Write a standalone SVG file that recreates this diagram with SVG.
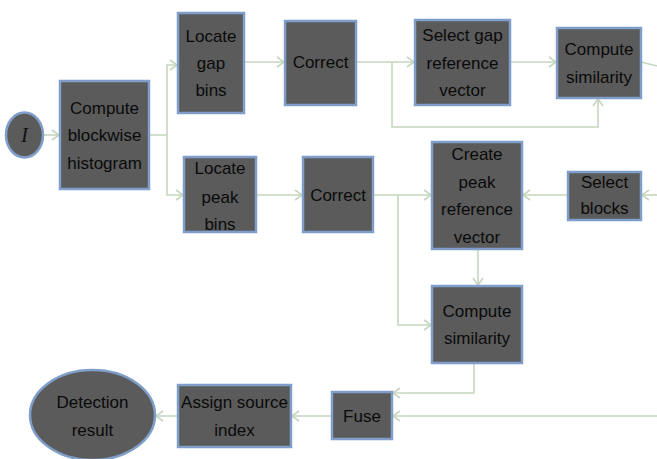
<svg xmlns="http://www.w3.org/2000/svg" width="657" height="459" viewBox="0 0 657 459">
<style>
.n{fill:#5b5b5b;stroke:#7f9ec9;stroke-width:2.5}
.t{font-family:"Liberation Sans",Arial,sans-serif;font-size:17px;fill:#0a0a0a;text-anchor:middle;dominant-baseline:central}
.c{fill:none;stroke:#c6d6be;stroke-width:1.6}
</style>
<defs>
<marker id="a" markerUnits="userSpaceOnUse" markerWidth="12" markerHeight="12" refX="9" refY="6" orient="auto">
<path d="M2,1 L9,6 L2,11" fill="none" stroke="#c6d6be" stroke-width="1.6"/>
</marker>
</defs>
<rect width="657" height="459" fill="#fff"/>
<g id="connectors">
<path class="c" d="M43,135 H59" marker-end="url(#a)"/>
<path class="c" d="M149,135 H167 V65 H177" marker-end="url(#a)"/>
<path class="c" d="M167,135 V195 H183" marker-end="url(#a)"/>
<path class="c" d="M244,62 H284" marker-end="url(#a)"/>
<path class="c" d="M256,195 H302" marker-end="url(#a)"/>
<path class="c" d="M356,62 H414" marker-end="url(#a)"/>
<path class="c" d="M392,62 V127 H598 V99" marker-end="url(#a)"/>
<path class="c" d="M510,62 H556" marker-end="url(#a)"/>
<path class="c" d="M641,62 L657,66"/>
<path class="c" d="M373,195 H431" marker-end="url(#a)"/>
<path class="c" d="M398,195 V325 H431" marker-end="url(#a)"/>
<path class="c" d="M568,195 H523" marker-end="url(#a)"/>
<path class="c" d="M657,195 H642" marker-end="url(#a)"/>
<path class="c" d="M478,249 V285" marker-end="url(#a)"/>
<path class="c" d="M474,363 V393 H393" marker-end="url(#a)"/>
<path class="c" d="M657,416 H393" marker-end="url(#a)"/>
<path class="c" d="M332,416 H292" marker-end="url(#a)"/>
<path class="c" d="M178,416 H156" marker-end="url(#a)"/>
</g>
<g id="input">
<ellipse class="n" cx="24.5" cy="135" rx="18.5" ry="22.5"/>
<text x="24.5" y="135" style="font-family:'Liberation Serif','Times New Roman',serif;font-style:italic;font-size:21px;fill:#111;text-anchor:middle;dominant-baseline:central">I</text>
</g>
<g id="histogram">
<rect class="n" x="60" y="81" width="89" height="108"/>
<text class="t" x="104.5" y="108">Compute</text>
<text class="t" x="104.5" y="135">blockwise</text>
<text class="t" x="104.5" y="163">histogram</text>
</g>
<g id="locate-gap">
<rect class="n" x="178" y="13" width="66" height="100"/>
<text class="t" x="211" y="36">Locate</text>
<text class="t" x="211" y="63">gap</text>
<text class="t" x="211" y="90">bins</text>
</g>
<g id="correct-gap">
<rect class="n" x="285" y="21" width="71" height="84"/>
<text class="t" x="320.5" y="62">Correct</text>
</g>
<g id="select-gap">
<rect class="n" x="415" y="20" width="95" height="85"/>
<text class="t" x="462.5" y="35">Select gap</text>
<text class="t" x="462.5" y="63">reference</text>
<text class="t" x="462.5" y="90">vector</text>
</g>
<g id="similarity-gap">
<rect class="n" x="557" y="28" width="84" height="70"/>
<text class="t" x="599" y="49">Compute</text>
<text class="t" x="599" y="77">similarity</text>
</g>
<g id="locate-peak">
<rect class="n" x="184" y="157" width="72" height="75"/>
<text class="t" x="220" y="168">Locate</text>
<text class="t" x="220" y="197">peak</text>
<text class="t" x="220" y="224">bins</text>
</g>
<g id="correct-peak">
<rect class="n" x="303" y="157" width="70" height="75"/>
<text class="t" x="338" y="195">Correct</text>
</g>
<g id="create-peak">
<rect class="n" x="432" y="142" width="90" height="107"/>
<text class="t" x="477" y="154">Create</text>
<text class="t" x="477" y="182">peak</text>
<text class="t" x="477" y="209">reference</text>
<text class="t" x="477" y="237">vector</text>
</g>
<g id="select-blocks">
<rect class="n" x="568" y="172" width="73" height="48"/>
<text class="t" x="604.5" y="182">Select</text>
<text class="t" x="604.5" y="208">blocks</text>
</g>
<g id="similarity-peak">
<rect class="n" x="432" y="286" width="90" height="77"/>
<text class="t" x="477" y="311">Compute</text>
<text class="t" x="477" y="338">similarity</text>
</g>
<g id="fuse">
<rect class="n" x="332" y="392" width="60" height="47"/>
<text class="t" x="362" y="416">Fuse</text>
</g>
<g id="assign">
<rect class="n" x="178" y="385" width="113" height="62"/>
<text class="t" x="234.5" y="402">Assign source</text>
<text class="t" x="234.5" y="430">index</text>
</g>
<g id="result">
<ellipse class="n" cx="92.5" cy="415" rx="62.5" ry="45"/>
<text class="t" x="92.5" y="402">Detection</text>
<text class="t" x="92.5" y="430">result</text>
</g>
</svg>
